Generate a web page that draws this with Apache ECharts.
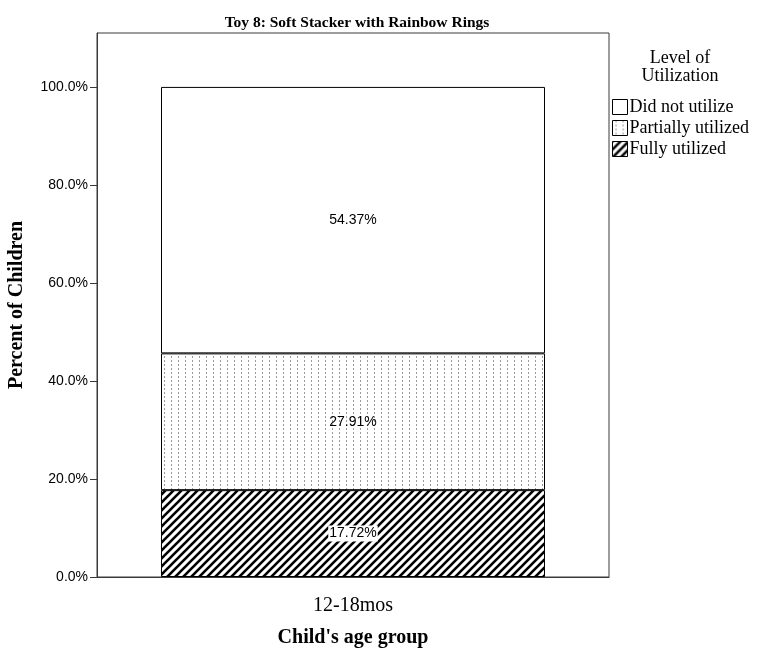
<!DOCTYPE html>
<html>
<head>
<meta charset="utf-8">
<script src="https://cdn.jsdelivr.net/npm/echarts@6/dist/echarts.min.js"></script>
<style>html,body{margin:0;padding:0;background:#fff;}#c{width:759px;height:648px;}</style>
</head>
<body>
<div id="c"></div>
<script>
const categories = ['12-18mos'];
const seriesNames = ['Fully utilized', 'Partially utilized', 'Did not utilize'];
const fullyUtilized = [17.72];
const partiallyUtilized = [27.91];
const didNotUtilize = [54.37];
const yTicks = [0, 20, 40, 60, 80, 100];

function hatchPattern() {
  const c = document.createElement('canvas');
  c.width = 8; c.height = 8;
  const g = c.getContext('2d');
  g.fillStyle = '#fff'; g.fillRect(0, 0, 8, 8);
  g.strokeStyle = '#000'; g.lineWidth = 2.6;
  [[-8, 8, 8, -8], [0, 8, 8, 0], [0, 16, 16, 0]].forEach(function (l) {
    g.beginPath(); g.moveTo(l[0], l[1]); g.lineTo(l[2], l[3]); g.stroke();
  });
  return c;
}
function dotPattern() {
  const c = document.createElement('canvas');
  c.width = 7; c.height = 4;
  const g = c.getContext('2d');
  g.fillStyle = '#fff'; g.fillRect(0, 0, 7, 4);
  g.fillStyle = '#9a9a9a'; g.fillRect(3, 0, 1, 2);
  return c;
}
const hatch = { image: hatchPattern(), repeat: 'repeat' };
const dots = { image: dotPattern(), repeat: 'repeat' };

const serif = '"Liberation Serif", "Times New Roman", serif';
const sans = '"Liberation Sans", Arial, sans-serif';

const chart = echarts.init(document.getElementById('c'), null, { renderer: 'canvas' });

function seg(name, data, fill, labelBg) {
  return {
    name: name, type: 'bar', stack: 'total', data: data, barWidth: '75%',
    itemStyle: { color: fill, borderColor: '#000', borderWidth: 1 },
    label: {
      show: true, position: 'inside', color: '#000', fontFamily: sans, fontSize: 14,
      formatter: function (p) { return p.value.toFixed(2) + '%'; },
      backgroundColor: labelBg, padding: labelBg ? [1, 1] : 0
    },
    emphasis: { disabled: true }
  };
}

chart.setOption({
  animation: false,
  backgroundColor: '#fff',
  title: {
    text: 'Toy 8: Soft Stacker with Rainbow Rings',
    left: 352, top: 10, textAlign: 'center',
    textStyle: { fontFamily: serif, fontSize: 15.5, fontWeight: 'bold', color: '#000' }
  },
  grid: { left: 97, right: 150, top: 33, bottom: 71, outerBoundsMode: 'none', containLabel: false,
    show: true, borderColor: '#3a3a3a', borderWidth: 1, backgroundColor: 'transparent' },
  legend: {
    orient: 'vertical', left: 612, top: 98, padding: 0, icon: 'rect',
    itemWidth: 15, itemHeight: 15, itemGap: 3,
    data: ['Did not utilize', 'Partially utilized', 'Fully utilized'],
    textStyle: { fontFamily: serif, fontSize: 18, color: '#000', lineHeight: 15, height: 15, padding: [0, 0, 0, -3] },
    itemStyle: { borderColor: '#000', borderWidth: 1 },
    selectedMode: false
  },
  graphic: [{
    type: 'text', x: 680, y: 49,
    style: {
      text: 'Level of\nUtilization', align: 'center', verticalAlign: 'top',
      font: '18px ' + serif, fill: '#000', lineHeight: 18
    }
  }],
  xAxis: {
    type: 'category', data: categories,
    name: "Child's age group", nameLocation: 'middle', nameGap: 51,
    nameTextStyle: { fontFamily: serif, fontSize: 20, fontWeight: 'bold', color: '#000' },
    axisLine: { lineStyle: { color: '#3a3a3a', width: 1 } },
    axisTick: { alignWithLabel: true, length: 12, lineStyle: { color: '#3a3a3a' } },
    axisLabel: { margin: 19, fontFamily: serif, fontSize: 20, color: '#000' }
  },
  yAxis: {
    type: 'value', min: 0, max: 111,
    name: 'Percent of Children', nameLocation: 'middle', nameGap: 70,
    nameTextStyle: { fontFamily: serif, fontSize: 20, fontWeight: 'bold', color: '#000' },
    axisLine: { show: true, lineStyle: { color: '#3a3a3a', width: 1 } },
    axisTick: { show: true, length: 7, customValues: yTicks, lineStyle: { color: '#3a3a3a' } },
    axisLabel: { customValues: yTicks, margin: 9, fontFamily: sans, fontSize: 14, color: '#000',
      formatter: function (v) { return v.toFixed(1) + '%'; } },
    splitLine: { show: false }
  },
  series: [
    seg('Fully utilized', fullyUtilized, hatch, '#fff'),
    seg('Partially utilized', partiallyUtilized, dots, null),
    seg('Did not utilize', didNotUtilize, '#fff', null)
  ]
});
</script>
</body>
</html>
